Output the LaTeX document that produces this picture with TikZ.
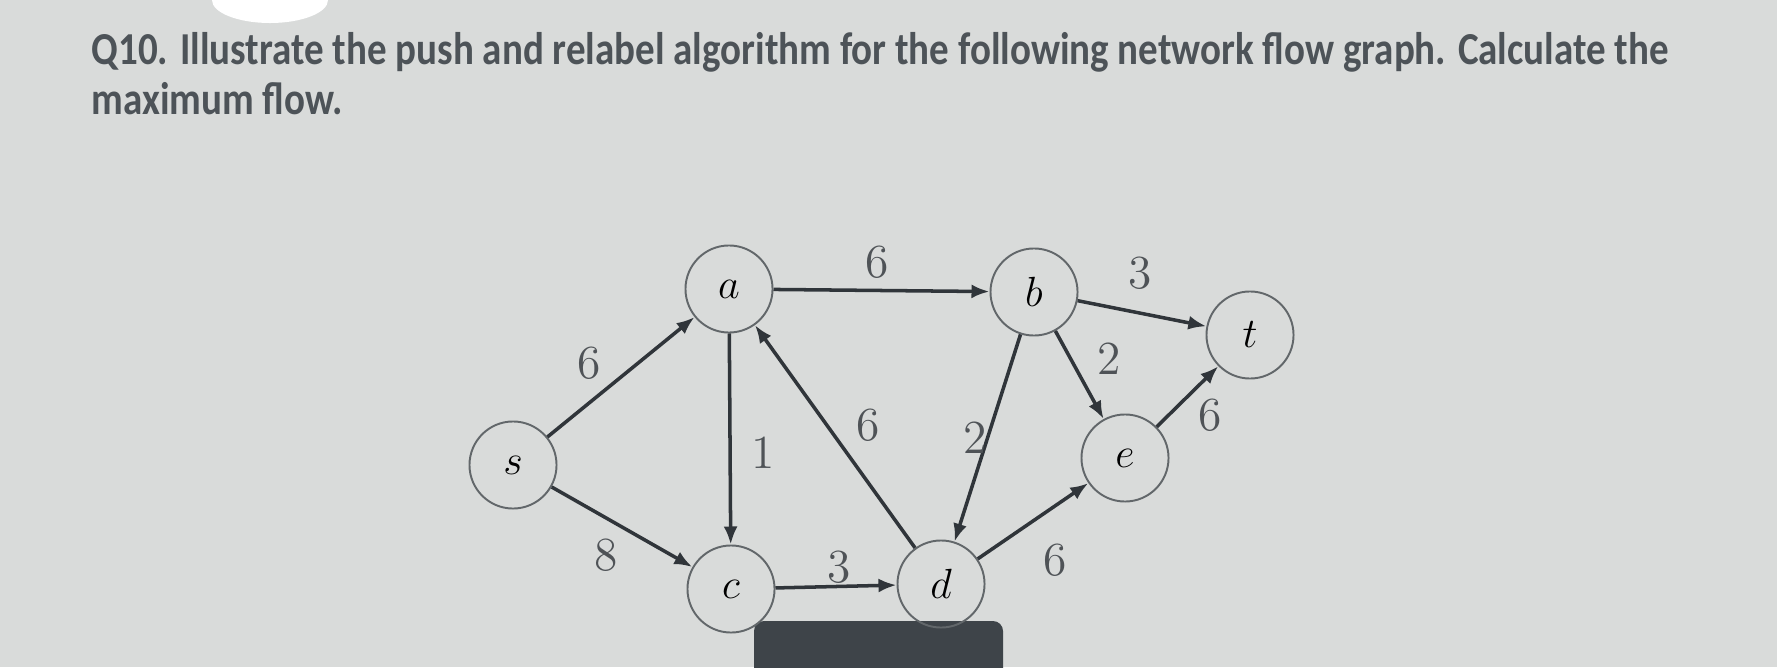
\documentclass[tikz,border=0pt]{standalone}
\usepackage{fontspec}
\usetikzlibrary{arrows.meta}
\newfontfamily\titlefont{Carlito}
\definecolor{screen}{HTML}{D9DBDA}
\definecolor{ink}{HTML}{30353A}
\definecolor{rim}{HTML}{62676A}
\definecolor{titleink}{HTML}{4D5358}
\definecolor{bar}{HTML}{3E4449}

\begin{document}
\begin{tikzpicture}[x=0.01cm,y=-0.01cm,
    vertex/.style={circle,draw=rim,line width=0.55pt,minimum size=0.87cm,inner sep=0pt,font=\large},
    weight/.style={font=\fontsize{13.5}{16}\selectfont,text=ink!85,inner sep=0pt},
    flow/.style={draw=ink,line width=1pt,-{Latex[length=0.18cm,width=0.14cm]}},
    heading/.style={anchor=base west,inner sep=0pt,text=titleink,font=\titlefont\bfseries\fontsize{13}{15}\selectfont}]
                \fill[screen] (0,0) rectangle (1777,667);
                \useasboundingbox (0,0) rectangle (1777,667);
                \fill[white] (270,0) ellipse [x radius=0.58cm, y radius=0.23cm];
                \node[heading] (line1) at (91,65) {\scalebox{0.853}[1]{Q10. Illustrate the push and relabel algorithm for the following network flow graph. Calculate the}};
                \node[heading] (line2) at (91,114) {\scalebox{0.853}[1]{maximum flow.}};
                \fill[bar,rounded corners=0.1cm] (754,621) rectangle (1003,720);
                \node[vertex] (s) at (513,465) {$s$};
                \node[vertex] (a) at (729,289) {$a$};
                \node[vertex] (c) at (731,589) {$c$};
                \node[vertex] (d) at (941,584) {$d$};
                \node[vertex] (b) at (1034,292) {$b$};
                \node[vertex] (e) at (1125,458) {$e$};
                \node[vertex] (t) at (1250,335) {$t$};
                \draw[flow] (s) -- (a);
                \draw[flow] (s) -- (c);
                \draw[flow] (a) -- (c);
                \draw[flow] (a) -- (b);
                \draw[flow] (d) -- (a);
                \draw[flow] (c) -- (d);
                \draw[flow] (b) -- (d);
                \draw[flow] (b) -- (e);
                \draw[flow] (b) -- (t);
                \draw[flow] (d) -- (e);
                \draw[flow] (e) -- (t);
                \node[weight] (wsa) at (589,363) {6};
                \node[weight] (wsc) at (606,555) {8};
                \node[weight] (wac) at (763,453) {1};
                \node[weight] (wab) at (877,262) {6};
                \node[weight] (wda) at (868,425) {6};
                \node[weight] (wcd) at (839,567) {3};
                \node[weight] (wbd) at (975,438) {2};
                \node[weight] (wbe) at (1109,359) {2};
                \node[weight] (wbt) at (1140,273) {3};
                \node[weight] (wde) at (1055,560) {6};
                \node[weight] (wet) at (1210,415) {6};
            \end{tikzpicture}
\end{document}
